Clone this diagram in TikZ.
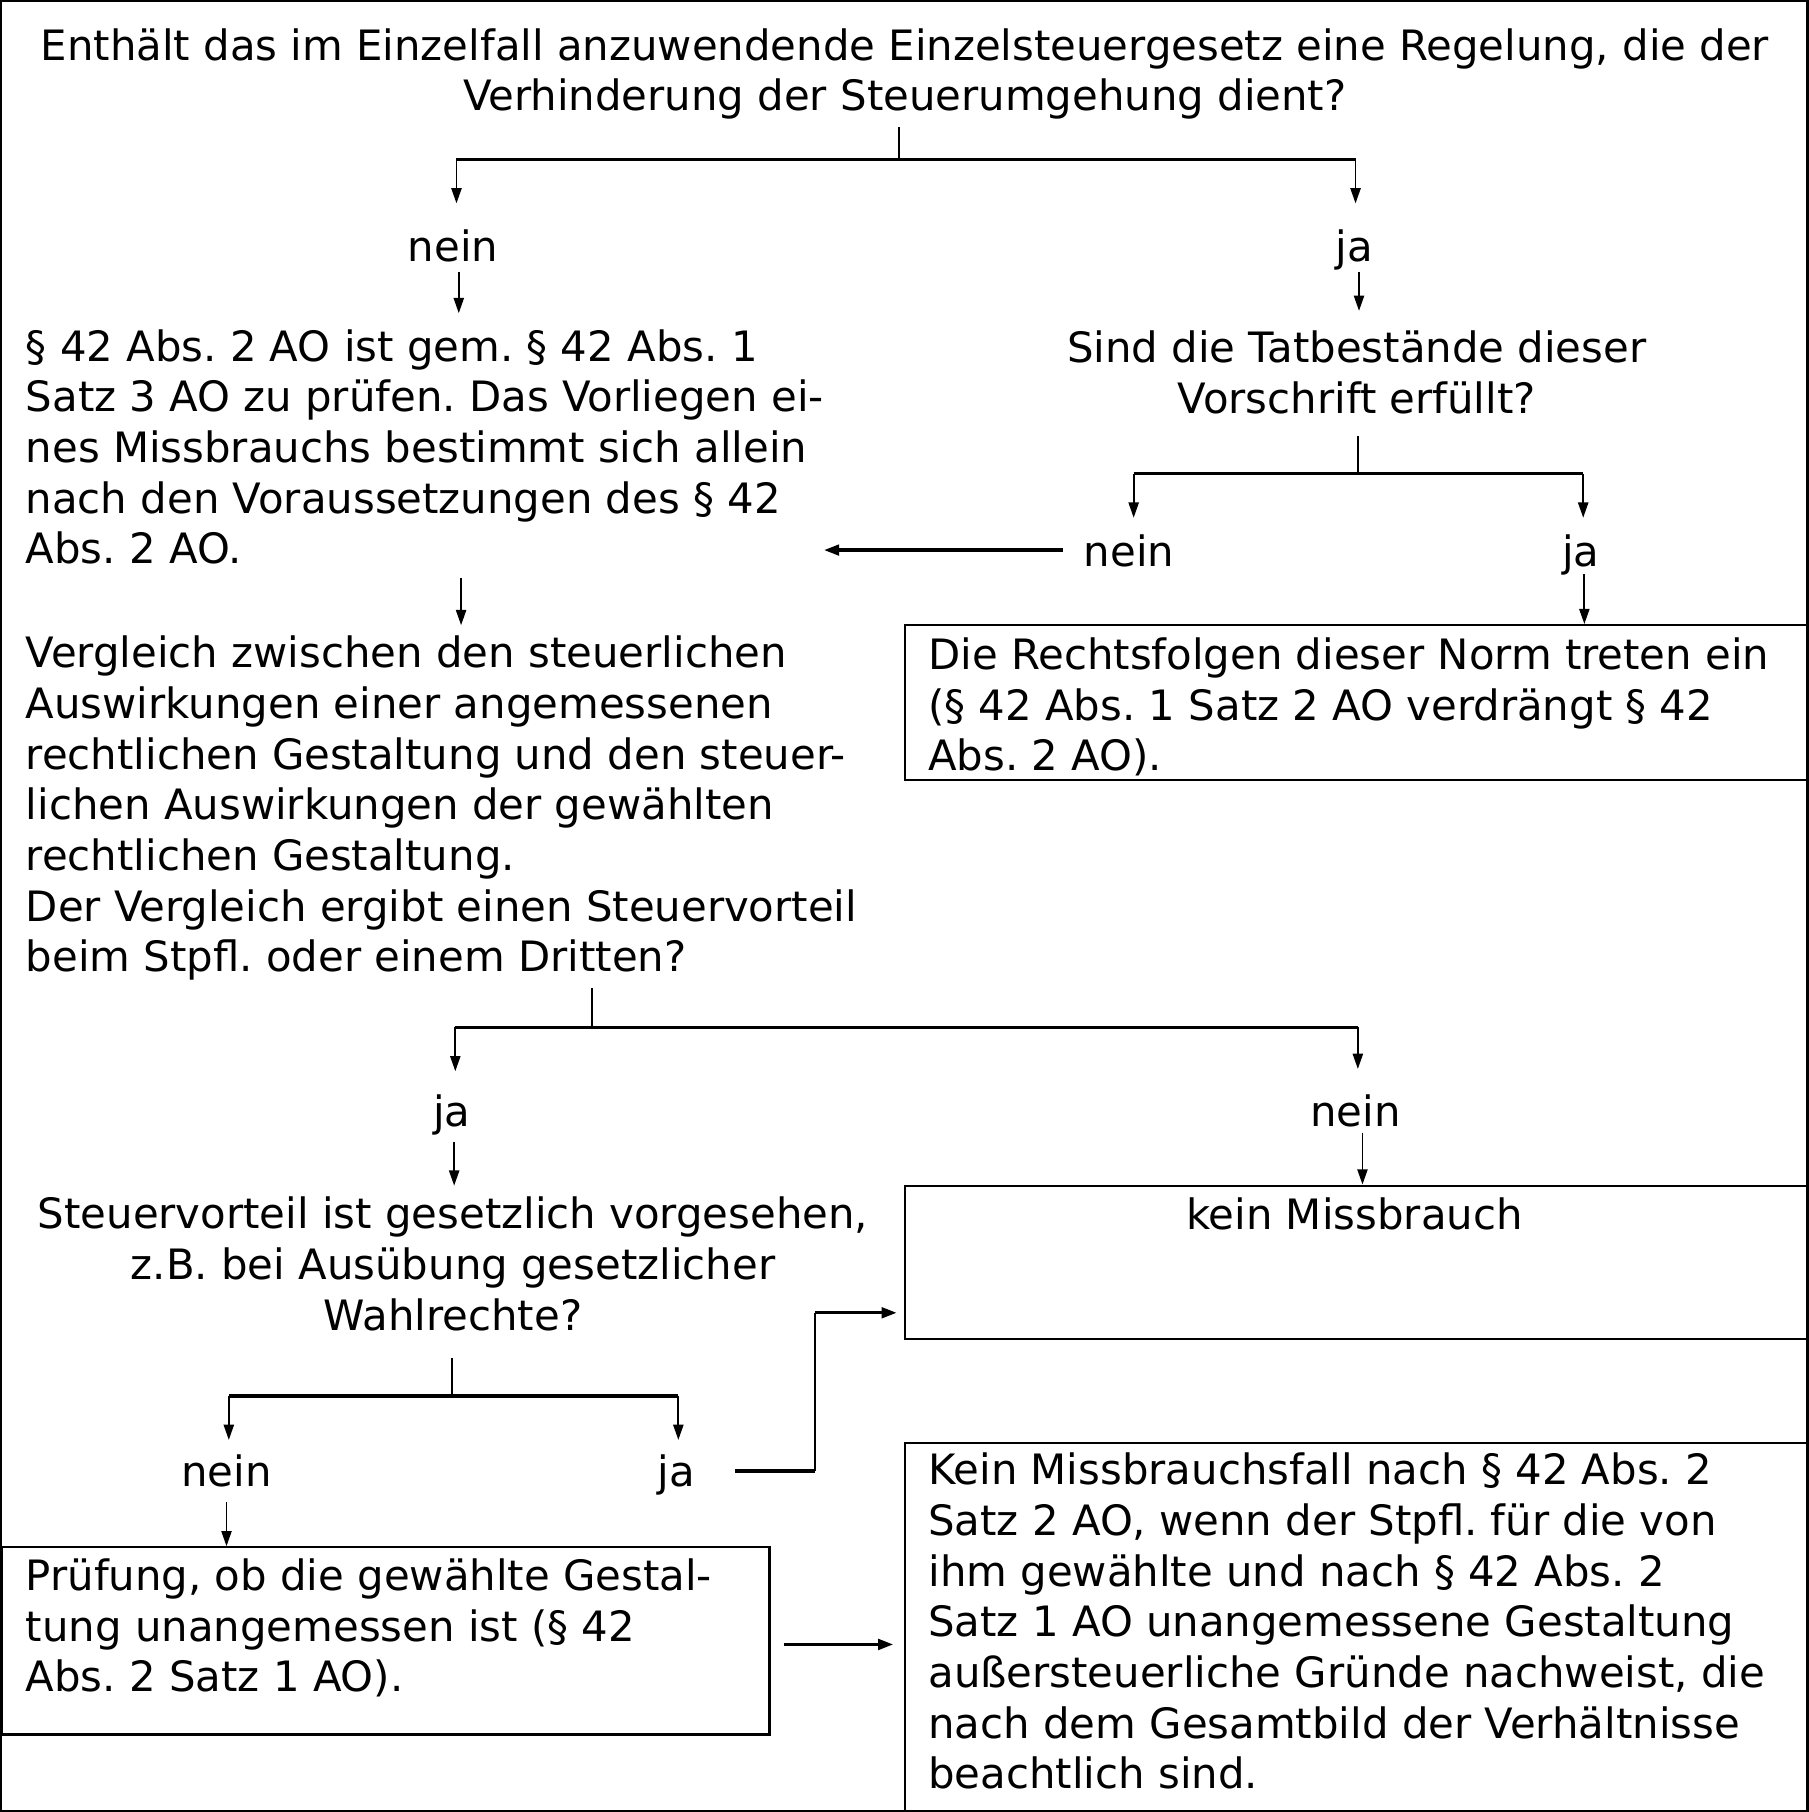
\documentclass[tikz,border=0pt]{standalone}
\usepackage{fontspec}
\setmainfont{DejaVu Sans}
\usetikzlibrary{arrows.meta}
\frenchspacing
\begin{document}
\begin{tikzpicture}[x=0.02cm,y=-0.02cm,
  txt/.style={font=\fontsize{20.6}{24.95}\selectfont\frenchspacing, inner sep=0pt, yshift=-0.06cm},
  para/.style={txt, align=left, anchor=base west},
  cpara/.style={txt, align=center, anchor=base},
  box/.style={draw, line width=1.1pt, anchor=north west, inner sep=0pt, minimum width=15.64cm},
  vl/.style={line width=0.9pt},
  hl/.style={line width=1.6pt},
  arr/.style={line width=0.9pt, -{Triangle[length=7.5pt,width=5pt]}},
  harr/.style={line width=1.6pt, -{Triangle[length=7.5pt,width=5.2pt]}}]
\useasboundingbox (0,0) rectangle (1565,1568);
\draw[line width=1.2pt] (1,1) rectangle (1564,1567);

% boxes
\node[box, minimum height=2.68cm] (rf) at (782,540) {};
\node[box, minimum height=2.66cm] (km) at (782,1025) {};
\node[box, minimum width=13.28cm, minimum height=3.24cm] (pr) at (1,1338) {};
\node[box, minimum height=6.38cm] (kmf) at (782,1248) {};

% texts (base anchor = baseline of the last line)
\node[cpara] (q1) at (783,93) {Enthält das im Einzelfall anzuwendende Einzelsteuergesetz eine Regelung, die der\\Verhinderung der Steuerumgehung dient?};
\node[cpara] (n1) at (392,223) {nein};
\node[cpara] (j1) at (1172,223) {ja};
\node[para] (pa) at (22,485) {§ 42 Abs. 2 AO ist gem. § 42 Abs. 1\\Satz 3 AO zu prüfen. Das Vorliegen ei-\\nes Missbrauchs bestimmt sich allein\\nach den Voraussetzungen des § 42\\Abs. 2 AO.};
\node[cpara] (q2) at (1174,354.5) {Sind die Tatbestände dieser\\Vorschrift erfüllt?};
\node[cpara] (n2) at (977,487) {nein};
\node[cpara] (j2) at (1368,487) {ja};
\node[para] (rft) at (803,664) {Die Rechtsfolgen dieser Norm treten ein\\(§ 42 Abs. 1 Satz 2 AO verdrängt § 42\\Abs. 2 AO).};
\node[para] (pb) at (22,838) {Vergleich zwischen den steuerlichen\\Auswirkungen einer angemessenen\\rechtlichen Gestaltung und den steuer-\\lichen Auswirkungen der gewählten\\rechtlichen Gestaltung.\\Der Vergleich ergibt einen Steuervorteil\\beim Stpfl. oder einem Dritten?};
\node[cpara] (j3) at (391,972) {ja};
\node[cpara] (n3) at (1173,972) {nein};
\node[cpara] (q3) at (392,1148) {Steuervorteil ist gesetzlich vorgesehen,\\z.B. bei Ausübung gesetzlicher\\Wahlrechte?};
\node[cpara] (kmt) at (1172,1061) {kein Missbrauch};
\node[cpara] (n4) at (196,1283) {nein};
\node[cpara] (j4) at (585,1283) {ja};
\node[para] (prt) at (22,1461) {Prüfung, ob die gewählte Gestal-\\tung unangemessen ist (§ 42\\Abs. 2 Satz 1 AO).};
\node[para] (kmft) at (803,1545) {Kein Missbrauchsfall nach § 42 Abs. 2\\Satz 2 AO, wenn der Stpfl. für die von\\ihm gewählte und nach § 42 Abs. 2\\Satz 1 AO unangemessene Gestaltung\\außersteuerliche Gründe nachweist, die\\nach dem Gesamtbild der Verhältnisse\\beachtlich sind.};

% branch 1
\coordinate (a1) at (778,110); \coordinate (a2) at (778,138);
\coordinate (a3) at (395,138); \coordinate (a4) at (1173,138);
\draw[vl] (a1) -- (a2);
\draw[hl] (a3) -- (a4);
\draw[arr] (a3) -- (395,176);
\draw[arr] (a4) -- (1173,176);
\draw[arr] (397,235) -- (397,271);
\draw[arr] (1176,235) -- (1176,269);

% branch 2
\coordinate (b1) at (1175,377); \coordinate (b2) at (1175,410);
\coordinate (b3) at (981,410); \coordinate (b4) at (1370,410);
\draw[vl] (b1) -- (b2);
\draw[hl] (b3) -- (b4);
\draw[arr] (b3) -- (981,448);
\draw[arr] (b4) -- (1370,448);
\draw[harr] (920,476) -- (713,476);
\draw[arr] (1371,497) -- (rf.north -| 1371,0);
\draw[arr] (399,500) -- (399,541);

% branch 3
\coordinate (c1) at (512,855); \coordinate (c2) at (512,889);
\coordinate (c3) at (394,889); \coordinate (c4) at (1175,889);
\draw[vl] (c1) -- (c2);
\draw[hl] (c3) -- (c4);
\draw[arr] (c3) -- (394,927);
\draw[arr] (c4) -- (1175,925);
\draw[arr] (393,988) -- (393,1026);
\draw[arr] (1179,980) -- (km.north -| 1179,0);

% branch 4
\coordinate (d1) at (391,1175); \coordinate (d2) at (391,1208);
\coordinate (d3) at (198,1208); \coordinate (d4) at (587,1208);
\draw[vl] (d1) -- (d2);
\draw[hl] (d3) -- (d4);
\draw[arr] (d3) -- (198,1246);
\draw[arr] (d4) -- (587,1246);
\coordinate (e1) at (636,1273); \coordinate (e2) at (705,1273);
\coordinate (e3) at (705,1136);
\draw[hl] (e1) -- (e2);
\draw[vl] (e2) -- (e3);
\draw[harr] (e3) -- (776,1136);
\draw[arr] (196,1300) -- (pr.north -| 196,0);
\draw[harr] (678,1423) -- (773,1423);
\end{tikzpicture}
\end{document}
